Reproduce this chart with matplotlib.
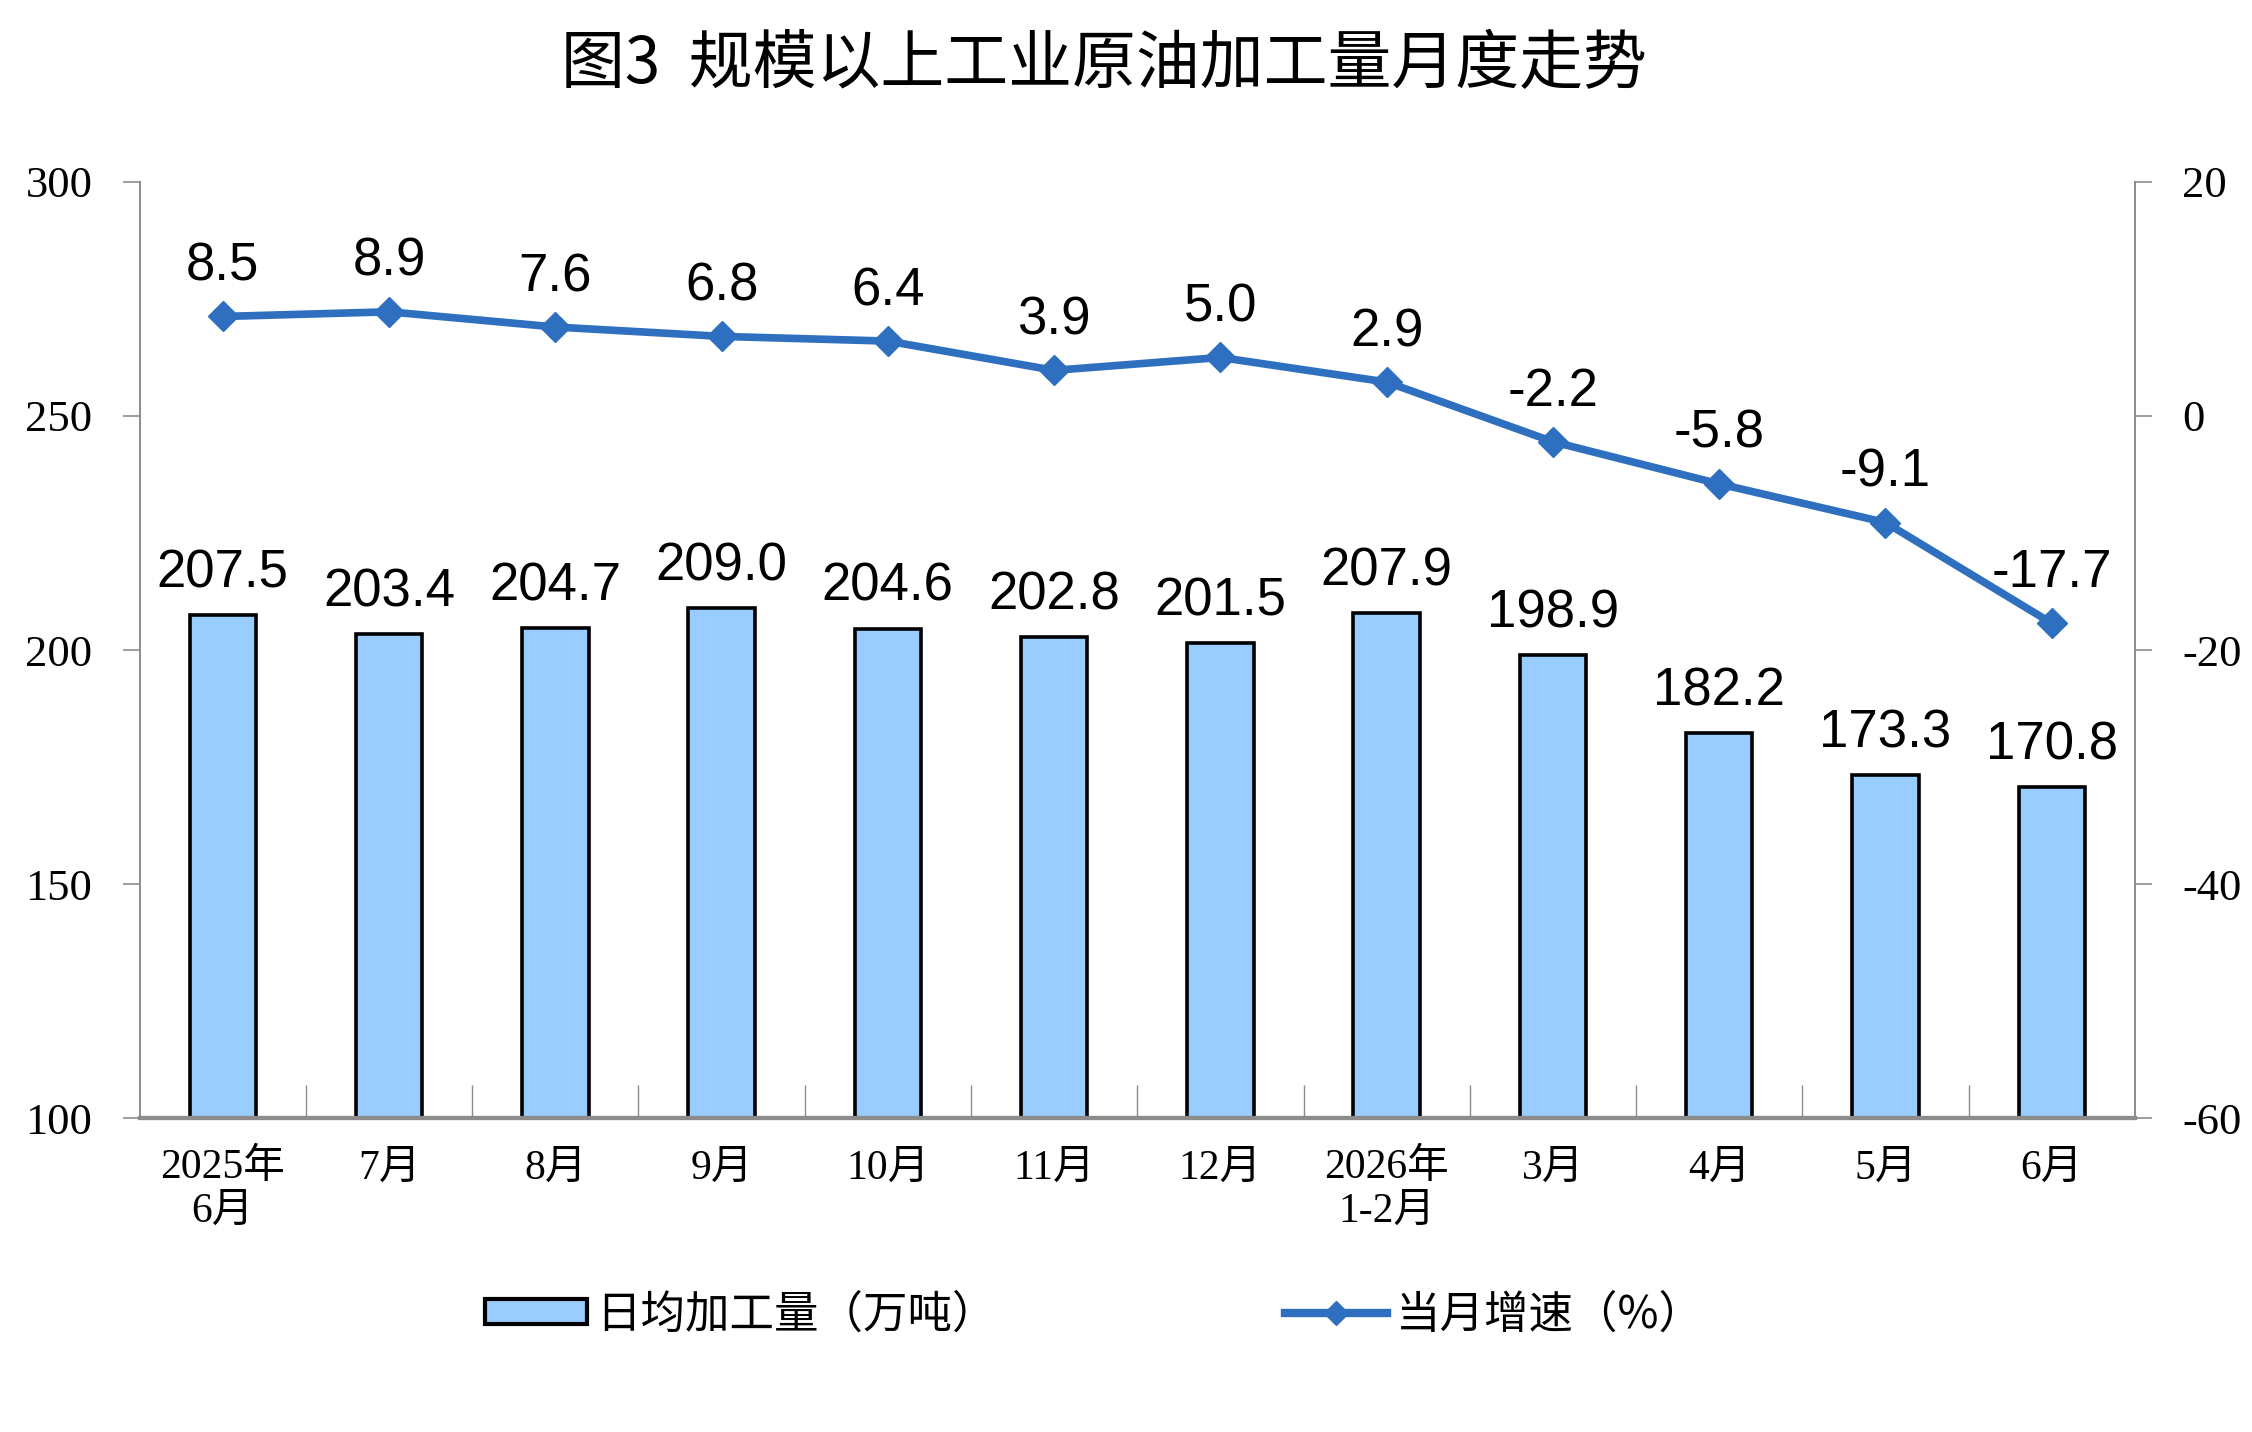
import matplotlib
matplotlib.use('Agg')
import matplotlib.pyplot as plt
from matplotlib.lines import Line2D
from matplotlib.patches import Patch

months = ['2025年\n6月', '7月', '8月', '9月', '10月', '11月', '12月',
          '2026年\n1-2月', '3月', '4月', '5月', '6月']
daily_output = [207.5, 203.4, 204.7, 209.0, 204.6, 202.8, 201.5, 207.9, 198.9, 182.2, 173.3, 170.8]
yoy_growth = [8.5, 8.9, 7.6, 6.8, 6.4, 3.9, 5.0, 2.9, -2.2, -5.8, -9.1, -17.7]

bar_name = '日均加工量（万吨）'
line_name = '当月增速（%）'
title = '图3  规模以上工业原油加工量月度走势'

cjk = ['Noto Sans CJK SC', 'DejaVu Sans']
serif = ['Liberation Serif', 'Noto Sans CJK SC']
sans = ['Liberation Sans', 'DejaVu Sans']

bar_color = '#99CCFF'
line_color = '#2E6FBF'
axis_gray = '#8C8C8C'

plt.rcParams['axes.unicode_minus'] = False

fig = plt.figure(figsize=(22.52, 14.32), dpi=100)
ax = fig.add_axes([0.062, 0.219, 0.886, 0.654])
ax2 = ax.twinx()

x = list(range(len(months)))
ax.bar(x, daily_output, width=0.4, color=bar_color, edgecolor='black', linewidth=2.6, zorder=2)
ax.set_ylim(100, 300)
ax.set_yticks([100, 150, 200, 250, 300])
ax.set_xlim(-0.5, len(months) - 0.5)

# category labels in the middle, small tick marks on the boundaries
ax.set_xticks(x)
ax.set_xticklabels(months, family=serif, fontsize=30, linespacing=1.15)
ax.tick_params(axis='x', which='major', length=0, pad=22)
ax.set_xticks([i + 0.5 for i in x[:-1]], minor=True)
ax.tick_params(axis='x', which='minor', direction='in', length=24, width=1, color=axis_gray)

ax.tick_params(axis='y', direction='out', length=12, width=1.2, color=axis_gray, pad=22)
for lab in ax.get_yticklabels():
    lab.set_family(serif)
    lab.set_fontsize(32)

for v, xi in zip(daily_output, x):
    ax.annotate(f'{v:.1f}', (xi, v), xytext=(0, 30), textcoords='offset points',
                ha='center', va='center', fontsize=38, family=sans)

ax2.plot(x, yoy_growth, color=line_color, linewidth=5.5, marker='D', markersize=15,
         markeredgecolor=line_color, zorder=3)
ax2.set_ylim(-60, 20)
ax2.set_yticks([-60, -40, -20, 0, 20])
ax2.tick_params(axis='y', direction='out', length=12, width=1.2, color=axis_gray, pad=22)
for lab in ax2.get_yticklabels():
    lab.set_family(serif)
    lab.set_fontsize(32)

for v, xi in zip(yoy_growth, x):
    ax2.annotate(f'{v:.1f}', (xi, v), xytext=(0, 36), textcoords='offset points',
                 ha='center', va='center', fontsize=38, family=sans)

for a in (ax, ax2):
    a.spines['top'].set_visible(False)
    a.spines['left'].set_color(axis_gray)
    a.spines['right'].set_color(axis_gray)
    a.spines['left'].set_linewidth(1.2)
    a.spines['right'].set_linewidth(1.2)
    a.spines['bottom'].set_color(axis_gray)
    a.spines['bottom'].set_linewidth(3)

fig.suptitle(title, x=0.49, y=0.955, va='center', fontsize=46, family=cjk)

handles = [Patch(facecolor=bar_color, edgecolor='black', linewidth=3),
           Line2D([0], [0], color=line_color, linewidth=6, marker='D', markersize=12)]
fig.legend(handles, [bar_name, line_name], loc='center', bbox_to_anchor=(0.486, 0.082),
           ncol=2, frameon=False, prop={'family': cjk, 'size': 32},
           handlelength=2.3, handleheight=0.5, handletextpad=0.2, columnspacing=6.5)

fig.savefig('out.png', dpi=100)
